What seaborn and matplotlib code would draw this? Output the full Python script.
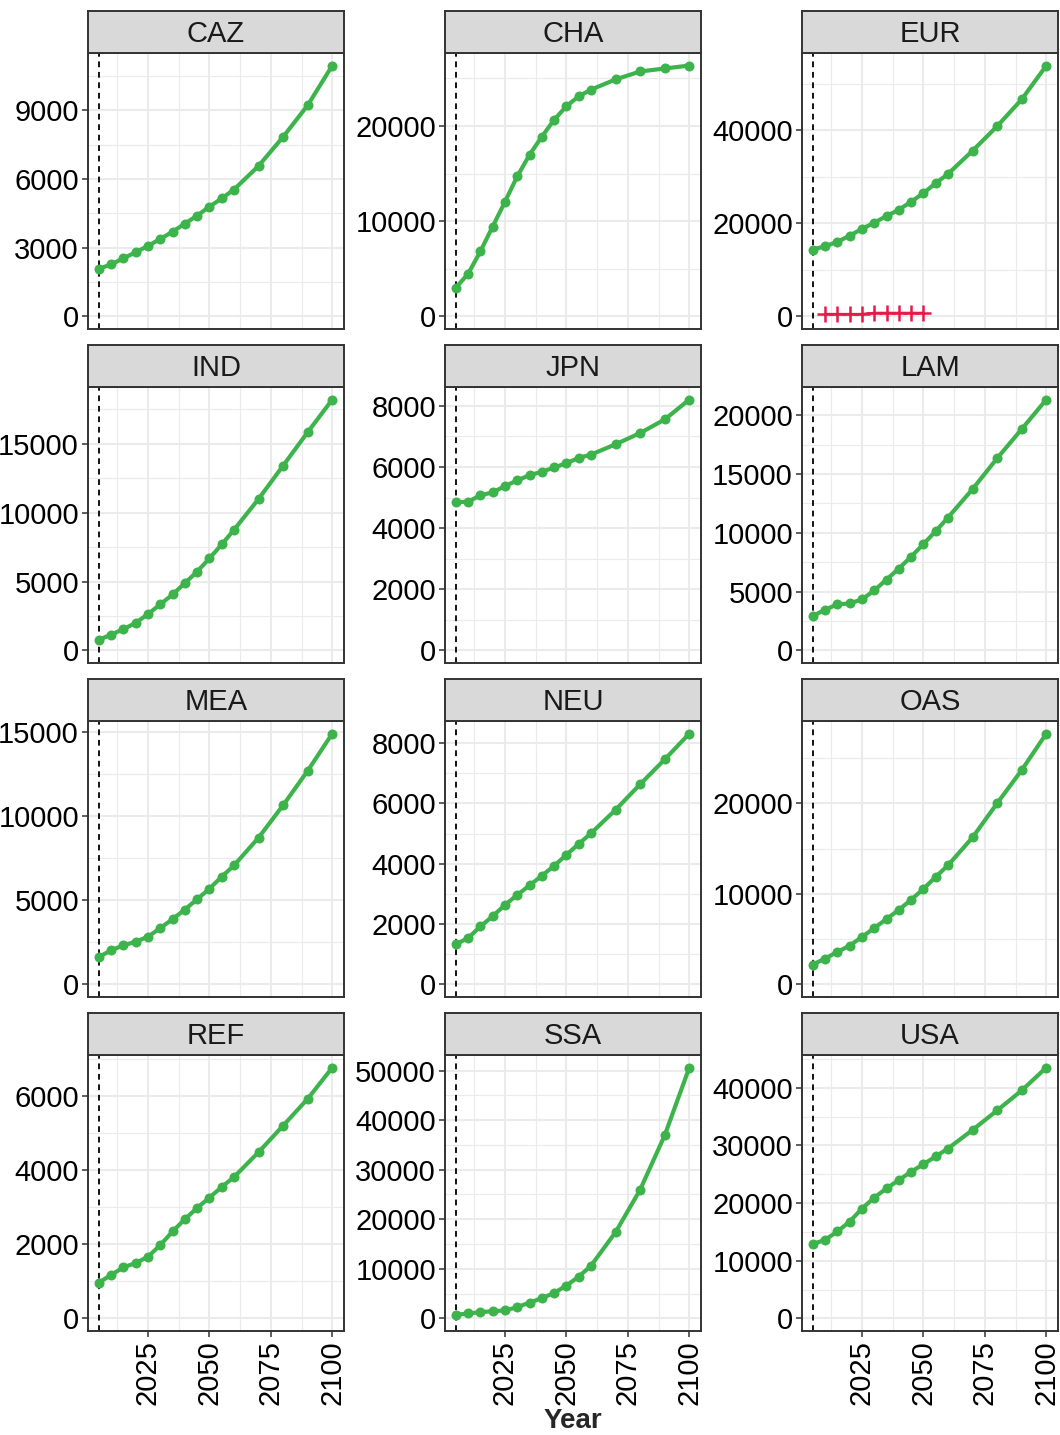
import numpy as np
import pandas as pd
import matplotlib
matplotlib.use("Agg")
import matplotlib.pyplot as plt
import seaborn as sns

# data
years = [2005, 2010, 2015, 2020, 2025, 2030, 2035, 2040, 2045, 2050, 2055, 2060, 2070, 2080, 2090, 2100]
regions = ["CAZ", "CHA", "EUR", "IND", "JPN", "LAM", "MEA", "NEU", "OAS", "REF", "SSA", "USA"]

caz = [2080, 2270, 2540, 2800, 3080, 3380, 3700, 4050, 4400, 4790, 5150, 5540, 6570, 7840, 9220, 10950]
cha = [3020, 4480, 6840, 9450, 12050, 14720, 16990, 18890, 20660, 22090, 23130, 23830, 24900, 25740, 26050, 26360]
eur = [14380, 15090, 16020, 17370, 18800, 20150, 21570, 22930, 24640, 26490, 28620, 30620, 35600, 40870, 46640, 53900]
ind = [770, 1150, 1540, 2000, 2640, 3340, 4060, 4880, 5720, 6680, 7690, 8750, 10990, 13410, 15840, 18200]
jpn = [4845, 4867, 5073, 5170, 5377, 5560, 5734, 5843, 5984, 6125, 6298, 6406, 6742, 7111, 7556, 8206]
lam = [2930, 3465, 3915, 4000, 4340, 5100, 6030, 6960, 7970, 9040, 10140, 11300, 13720, 16340, 18820, 21330]
mea = [1636, 2030, 2326, 2543, 2838, 3350, 3883, 4454, 5066, 5696, 6406, 7076, 8730, 10660, 12710, 14920]
neu = [1330, 1540, 1923, 2264, 2637, 2967, 3286, 3604, 3934, 4297, 4660, 5011, 5791, 6638, 7462, 8319]
oas = [2200, 2860, 3590, 4290, 5240, 6230, 7220, 8240, 9340, 10550, 11870, 13150, 16230, 20000, 23660, 27690]
ref = [969, 1175, 1381, 1498, 1668, 1982, 2350, 2682, 2987, 3265, 3552, 3821, 4494, 5211, 5937, 6780]
ssa = [740, 1000, 1270, 1470, 1610, 2280, 3210, 4080, 5150, 6630, 8430, 10640, 17400, 25970, 36950, 50600]
usa = [12890, 13640, 15080, 16800, 19050, 20950, 22560, 24000, 25440, 26760, 28090, 29470, 32690, 36080, 39540, 43510]

# second (historical) series only present for EUR
eur_hist_years = [2010, 2015, 2020, 2025, 2030, 2035, 2040, 2045, 2050]
eur_hist = [500, 500, 500, 500, 750, 750, 750, 750, 750]

# y tick step for each facet
y_steps = [3000, 10000, 20000, 5000, 2000, 5000, 5000, 2000, 10000, 2000, 10000, 10000]
x_ticks = [2025, 2050, 2075, 2100]
base_year = 2005

series = [caz, cha, eur, ind, jpn, lam, mea, neu, oas, ref, ssa, usa]
df = pd.DataFrame({
    "region": np.repeat(regions, len(years)),
    "year": years * len(regions),
    "value": np.concatenate(series),
})
hist = pd.DataFrame({"region": "EUR", "year": eur_hist_years, "value": eur_hist})

green = "#3CB44B"
red = "#E6194B"
border = "#333333"
gridc = "#EBEBEB"

sns.set_style("white")
plt.rcParams["font.family"] = ["Liberation Sans", "DejaVu Sans"]

W, H = 1060, 1435
fig = plt.figure(figsize=(W / 100, H / 100), dpi=100)

cols_x = [(88, 344), (445, 701), (802, 1058)]
rows_y = [(53, 329), (387, 663), (721, 997), (1055, 1331)]
strip_h = 42

xlo, xhi = 2000.6, 2104.75

for i, reg in enumerate(regions):
    r, c = divmod(i, 3)
    x0, x1 = cols_x[c]
    y0, y1 = rows_y[r]
    ax = fig.add_axes([x0 / W, 1 - y1 / H, (x1 - x0) / W, (y1 - y0) / H])
    sub = df[df.region == reg]
    vmax = sub.value.max()
    ylo, yhi = -0.05 * vmax, vmax * 1.05
    step = y_steps[i]

    # grid
    for t in np.arange(0, yhi, step):
        ax.axhline(t, color=gridc, lw=1.5, zorder=0)
    for t in np.arange(step / 2, yhi, step):
        ax.axhline(t, color=gridc, lw=0.8, zorder=0)
    for t in x_ticks:
        ax.axvline(t, color=gridc, lw=1.5, zorder=0)
    for t in np.array(x_ticks) - 12.5:
        ax.axvline(t, color=gridc, lw=0.8, zorder=0)

    ax.axvline(base_year, color="black", lw=1.3, ls=(0, (3.2, 2.6)), zorder=1)

    sns.lineplot(data=sub, x="year", y="value", ax=ax, color=green, lw=3.0,
                 marker="o", markersize=7.2, markeredgewidth=0,
                 markeredgecolor=green, zorder=3)
    if reg == "EUR":
        sns.lineplot(data=hist, x="year", y="value", ax=ax, color=red, lw=1.8,
                     marker="+", markersize=11, markeredgewidth=1.8,
                     markeredgecolor=red, zorder=3)

    ax.set_xlim(xlo, xhi)
    ax.set_ylim(ylo, yhi)
    ax.set_yticks(np.arange(0, yhi, step))
    ax.set_yticklabels([f"{int(t)}" for t in np.arange(0, yhi, step)])
    ax.set_xlabel("")
    ax.set_ylabel("")
    ax.grid(False)
    for s in ax.spines.values():
        s.set_color(border)
        s.set_linewidth(1.4)
    ax.tick_params(axis="y", length=4.5, width=1.1, color=border, labelsize=21,
                   labelcolor="black", pad=2, left=True)
    if r == 3:
        ax.set_xticks(x_ticks)
        ax.set_xticklabels([str(t) for t in x_ticks], rotation=90)
        ax.tick_params(axis="x", length=4.5, width=1.1, color=border, labelsize=21,
                       labelcolor="black", pad=2, bottom=True)
    else:
        ax.set_xticks([])

    # facet strip
    sax = fig.add_axes([x0 / W, 1 - y0 / H, (x1 - x0) / W, strip_h / H])
    sax.set_facecolor("#D9D9D9")
    sax.set_xticks([])
    sax.set_yticks([])
    for s in sax.spines.values():
        s.set_color(border)
        s.set_linewidth(1.4)
    sax.text(0.5, 0.46, reg, ha="center", va="center", fontsize=21, color="#1A1A1A",
             transform=sax.transAxes)

fig.text(573 / W, 1 - 1421 / H, "Year", ha="center", va="center", fontsize=20,
         fontweight="bold")

fig.savefig("out.png", dpi=100, facecolor="white")
